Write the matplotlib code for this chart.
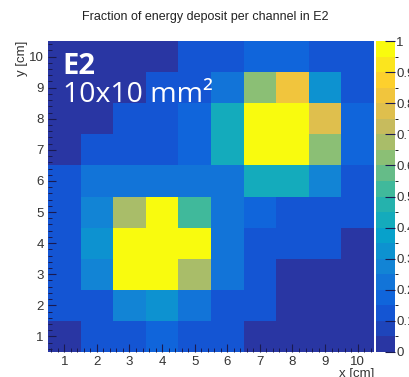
import numpy as np
import matplotlib
matplotlib.use('Agg')
import matplotlib.pyplot as plt
from matplotlib.colors import LinearSegmentedColormap, BoundaryNorm
from matplotlib.ticker import MultipleLocator

plt.rcParams['font.family'] = ['Liberation Sans', 'DejaVu Sans']

# channel grid, x = 1..10, y = 1..10 (rows listed from y=1 upward)
x_channels = [1, 2, 3, 4, 5, 6, 7, 8, 9, 10]
y_channels = [1, 2, 3, 4, 5, 6, 7, 8, 9, 10]
fraction = [
    [0.03, 0.12, 0.12, 0.17, 0.12, 0.12, 0.03, 0.03, 0.03, 0.03],  # y=1
    [0.12, 0.15, 0.27, 0.32, 0.23, 0.15, 0.12, 0.03, 0.03, 0.03],  # y=2
    [0.12, 0.28, 1.00, 1.00, 0.70, 0.20, 0.12, 0.03, 0.03, 0.03],  # y=3
    [0.15, 0.32, 1.00, 1.00, 1.00, 0.23, 0.15, 0.12, 0.12, 0.03],  # y=4
    [0.10, 0.25, 0.70, 1.00, 0.50, 0.22, 0.17, 0.15, 0.15, 0.12],  # y=5
    [0.12, 0.20, 0.22, 0.23, 0.23, 0.23, 0.42, 0.42, 0.25, 0.15],  # y=6
    [0.03, 0.10, 0.12, 0.13, 0.18, 0.42, 1.00, 1.00, 0.62, 0.17],  # y=7
    [0.03, 0.03, 0.10, 0.12, 0.18, 0.42, 1.00, 1.00, 0.75, 0.17],  # y=8
    [0.03, 0.03, 0.03, 0.10, 0.13, 0.20, 0.62, 0.82, 0.32, 0.13],  # y=9
    [0.03, 0.03, 0.03, 0.03, 0.10, 0.13, 0.17, 0.17, 0.15, 0.10],  # y=10
]
cbar_ticks = [0, 0.1, 0.2, 0.3, 0.4, 0.5, 0.6, 0.7, 0.8, 0.9, 1]
cbar_labels = ['0', '0.1', '0.2', '0.3', '0.4', '0.5', '0.6', '0.7', '0.8', '0.9', '1']

# bird-like palette (first stop tuned toward the bluer navy seen in the picture)
stops = [0.0, 0.125, 0.25, 0.375, 0.5, 0.625, 0.75, 0.875, 1.0]
red = [0.160, 0.0592, 0.0780, 0.0232, 0.1802, 0.5301, 0.8186, 0.9956, 0.9764]
green = [0.210, 0.3599, 0.5041, 0.6419, 0.7178, 0.7492, 0.7328, 0.7862, 0.9832]
blue = [0.640, 0.8684, 0.8385, 0.7914, 0.6425, 0.4662, 0.3499, 0.1968, 0.0539]
bird = LinearSegmentedColormap.from_list(
    'bird', list(zip(stops, zip(red, green, blue))))
levels = np.linspace(0, 1, 21)
norm = BoundaryNorm(levels, bird.N, clip=True)

fig = plt.figure(figsize=(4.10, 3.77), dpi=100)
W, H = 410, 377
ax = fig.add_axes([48 / W, 1 - 352 / H, 326 / W, 311 / H])
cax = fig.add_axes([376 / W, 1 - 352 / H, 19 / W, 311 / H])

xe = np.arange(len(x_channels) + 1) + 0.5
ye = np.arange(len(y_channels) + 1) + 0.5
mesh = ax.pcolormesh(xe, ye, np.array(fraction), cmap=bird, norm=norm)

ax.set_xlim(0.5, 10.5)
ax.set_ylim(0.5, 10.5)
ax.set_xticks(x_channels)
ax.set_yticks(y_channels)
ax.xaxis.set_minor_locator(MultipleLocator(0.2))
ax.yaxis.set_minor_locator(MultipleLocator(0.2))
ax.tick_params(which='both', direction='in', color='#1a1a50', labelsize=9.5,
               labelcolor='#333333')
ax.tick_params(which='major', length=6, width=0.8)
ax.tick_params(which='minor', length=3, width=0.7)
ax.tick_params(axis='x', pad=3)
ax.tick_params(axis='y', pad=3)
for s in ax.spines.values():
    s.set_visible(False)

ax.set_xlabel('x [cm]', loc='right', fontsize=9.5, color='#333333', labelpad=0)
ax.set_ylabel('y [cm]', loc='top', fontsize=9.5, color='#333333', labelpad=1)

ax.text(0.045, 0.893, 'E2', transform=ax.transAxes, color='white',
        fontsize=21, fontweight='bold', family='Open Sans', va='baseline')
ax.text(0.045, 0.805, '10x10 mm²', transform=ax.transAxes, color='white',
        fontsize=20.5, family='Open Sans', va='baseline')

cb = fig.colorbar(mesh, cax=cax, ticks=cbar_ticks)
cb.outline.set_visible(False)
cax.set_yticklabels(cbar_labels)
cax.tick_params(direction='in', length=7, width=0.8, color='#1a1a50',
                labelsize=9.5, labelcolor='#333333', pad=1)

fig.text(0.5, 1 - 17 / H, 'Fraction of energy deposit per channel in E2',
         ha='center', va='center', fontsize=9, color='#222222')

fig.savefig('out.png', dpi=100)
